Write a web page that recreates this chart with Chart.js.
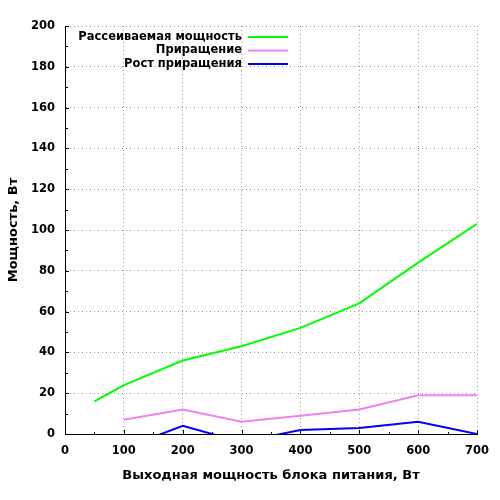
<!DOCTYPE html>
<html>
<head>
<meta charset="utf-8">
<script src="https://cdn.jsdelivr.net/npm/chart.js@4"></script>
<style>
  html, body { margin: 0; padding: 0; background: #fff; }
  #wrap { width: 500px; height: 500px; }
</style>
</head>
<body>
<div id="wrap"><canvas id="powerChart" width="500" height="500"></canvas></div>
<script>
// values
const dissipatedX = [50, 100, 200, 300, 400, 500, 600, 700];
const dissipated = [16, 24, 36, 43, 52, 64, 84, 103];
const stepX = [100, 200, 300, 400, 500, 600, 700];
const increment = [7, 12, 6, 9, 12, 19, 19];
const incrementGrowth = [-7, 4, -4, 2, 3, 6, 0];
const seriesLabels = ['Рассеиваемая мощность', 'Приращение', 'Рост приращения'];
const seriesColors = ['#00ff00', '#ee82ee', '#0000ff'];

const FONT = '"DejaVu Sans", sans-serif';

function toPoints(xs, ys) {
    return xs.map((x, i) => ({ x: x, y: ys[i] }));
}

// gnuplot style ticks pointing into the plot, plus the key in the top-left corner
const gnuplotBits = {
    id: 'gnuplotBits',
    afterDraw(chart) {
        const ctx = chart.ctx;
        const xs = chart.scales.x;
        const ys = chart.scales.y;
        const area = chart.chartArea;
        ctx.save();
        ctx.strokeStyle = '#000';
        ctx.lineWidth = 1;
        ctx.beginPath();
        for (let v = 0; v <= 700; v += 50) {
            const px = Math.round(xs.getPixelForValue(v)) + 0.5;
            const len = v % 100 === 0 ? 4 : 2;
            ctx.moveTo(px, area.bottom);
            ctx.lineTo(px, area.bottom - len);
        }
        for (let v = 0; v <= 200; v += 10) {
            const py = Math.round(ys.getPixelForValue(v)) + 0.5;
            const len = v % 20 === 0 ? 4 : 3;
            ctx.moveTo(area.left, py);
            ctx.lineTo(area.left + len, py);
        }
        ctx.stroke();

        // key
        ctx.font = 'bold 11.5px ' + FONT;
        ctx.textAlign = 'right';
        ctx.textBaseline = 'middle';
        chart.data.datasets.forEach((ds, i) => {
            const y = 37 + i * 13.5;
            ctx.fillStyle = '#000';
            ctx.fillText(ds.label, 242, y);
            ctx.strokeStyle = ds.borderColor;
            ctx.lineWidth = 2;
            ctx.beginPath();
            ctx.moveTo(248, y);
            ctx.lineTo(288, y);
            ctx.stroke();
        });
        ctx.restore();
    }
};

const ctx = document.getElementById('powerChart').getContext('2d');
new Chart(ctx, {
    type: 'line',
    data: {
        datasets: [{
            label: seriesLabels[0],
            data: toPoints(dissipatedX, dissipated),
            borderColor: seriesColors[0]
        }, {
            label: seriesLabels[1],
            data: toPoints(stepX, increment),
            borderColor: seriesColors[1]
        }, {
            label: seriesLabels[2],
            data: toPoints(stepX, incrementGrowth),
            borderColor: seriesColors[2]
        }]
    },
    options: {
        responsive: false,
        animation: false,
        devicePixelRatio: 1,
        elements: {
            line: { borderWidth: 2, tension: 0, fill: false },
            point: { radius: 0, hoverRadius: 0 }
        },
        layout: { padding: { left: 0, right: 23, top: 26, bottom: 17 } },
        plugins: {
            legend: { display: false },
            tooltip: { enabled: false }
        },
        scales: {
            x: {
                type: 'linear',
                min: 0,
                max: 700,
                afterFit: s => { s.height = 49; },
                ticks: {
                    stepSize: 100,
                    color: '#000',
                    padding: 10,
                    font: { family: FONT, size: 11.5, weight: 'bold' }
                },
                grid: { color: '#999', drawTicks: false, lineWidth: 1 },
                border: { color: '#000', width: 1, dash: [1, 3] },
                title: {
                    display: true,
                    text: 'Выходная мощность блока питания, Вт',
                    color: '#000',
                    padding: { top: 4, bottom: 0 },
                    font: { family: FONT, size: 13, weight: 'bold' }
                }
            },
            y: {
                min: 0,
                max: 200,
                afterFit: s => { s.width = 65; },
                ticks: {
                    stepSize: 20,
                    color: '#000',
                    padding: 10,
                    font: { family: FONT, size: 11.5, weight: 'bold' }
                },
                grid: { color: '#999', drawTicks: false, lineWidth: 1 },
                border: { color: '#000', width: 1, dash: [1, 3] },
                title: {
                    display: true,
                    text: 'Мощность, Вт',
                    color: '#000',
                    padding: { top: 6, bottom: 0 },
                    font: { family: FONT, size: 13, weight: 'bold' }
                }
            }
        }
    },
    plugins: [gnuplotBits]
});
</script>
</body>
</html>
